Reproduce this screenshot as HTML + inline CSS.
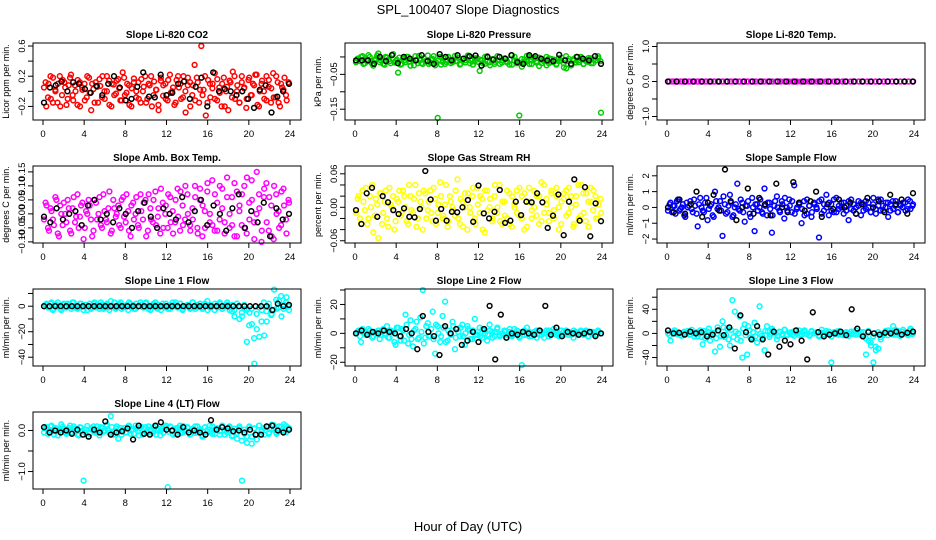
<!DOCTYPE html>
<html><head><meta charset="utf-8"><style>
html,body{margin:0;padding:0;background:#fff}
svg{display:block;font-family:"Liberation Sans",sans-serif}
</style></head><body>
<svg id="chart" width="936" height="540" viewBox="0 0 936 540">
<text x="468" y="14" text-anchor="middle" font-size="13">SPL_100407  Slope Diagnostics</text>
<text x="468" y="531" text-anchor="middle" font-size="13">Hour of Day (UTC)</text>
</svg>
<script>
const hourTicks=[0,4,8,12,16,20,24];
const co2Color=[0.05,-0.2,0.1,-0.1,0.18,0.02,-0.15,0.2,-0.05,0.12,-0.18,0.08,0.22,-0.12,0.0,0.15,-0.2,0.05,0.1,-0.08,0.18,-0.25,0.03,0.12,-0.15,0.07,0.2,-0.1,0.0,0.14,-0.2,0.09,-0.03,0.16,-0.12,0.25,-0.05,0.1,-0.18,0.04,0.17,-0.08,0.12,-0.15,0.0,0.2,-0.1,0.08,-0.2,0.13,0.02,-0.25,0.18,-0.06,0.1,-0.12,0.22,0.0,-0.18,0.15,0.05,-0.1,0.2,-0.28,0.08,0.12,-0.05,0.35,0.18,-0.15,0.6,0.02,-0.32,0.15,-0.08,0.1,0.24,-0.12,0.05,-0.2,0.18,0.0,-0.25,0.12,0.26,-0.1,0.08,-0.15,0.2,0.04,-0.22,0.15,-0.05,0.1,0.22,-0.18,0.0,0.14,-0.1,0.2,0.06,-0.15,0.24,-0.08,0.12,-0.2,0.05,0.18,-0.12,0.1];
const co2Color2=[0.12,-0.08,0.2,-0.15,0.0,0.1,-0.2,0.15,0.05,-0.1,0.18,-0.05,0.08,-0.18,0.12,0.02,-0.12,0.2,-0.02,0.1,-0.15,0.06,0.16,-0.08,0.0,0.2,-0.18,0.1,-0.05,0.14,0.04,-0.12,0.18,-0.02,0.08,-0.2,0.12,0.0,-0.1,0.16,0.06,-0.15,0.1,0.2,-0.05,0.02,-0.18,0.14,0.08,-0.1,0.15,-0.02,0.05,-0.15,0.2,0.1,-0.08,0.0,0.18,-0.2,0.08,-0.12,0.12,0.02,-0.05,0.2,-0.15,0.1,0.04,-0.1,0.16,-0.02,0.1,-0.2,0.06,0.14,-0.08,0.2,0.0,-0.15,0.12,0.05,-0.1,0.18,-0.05,0.08,0.22,-0.2,0.1,0.0,-0.12,0.15,0.04,-0.08,0.2,-0.15,0.1,0.02,-0.05,0.12];
const co2Black=[-0.15,0.05,0.08,0.13,0.0,0.12,0.1,0.03,-0.02,0.07,-0.05,0.1,0.2,0.05,-0.12,-0.1,0.06,0.25,-0.07,-0.08,0.22,-0.05,-0.02,0.1,0.13,-0.1,0.06,0.18,-0.2,0.25,0.0,0.03,0.0,-0.05,0.0,-0.1,-0.22,0.02,0.08,-0.28,-0.07,0.0,0.1];
const presColor=[-0.015,-0.005,0.0,-0.02,-0.01,0.005,-0.015,-0.025,-0.005,0.01,-0.01,-0.02,0.0,-0.008,-0.018,0.008,-0.012,-0.045,-0.022,-0.005,-0.015,0.0,-0.025,-0.01,0.002,-0.018,-0.008,-0.02,-0.012,0.004,-0.016,-0.006,-0.024,-0.175,0.0,-0.014,-0.02,-0.01,-0.008,-0.015,0.003,-0.012,-0.022,-0.006,-0.01,0.0,-0.018,-0.008,-0.013,-0.004,-0.04,-0.01,-0.02,0.002,-0.015,-0.007,-0.02,-0.01,0.0,-0.016,-0.006,-0.012,-0.022,0.005,-0.01,-0.018,-0.168,-0.028,-0.008,-0.014,0.0,-0.02,-0.006,-0.012,-0.002,-0.018,-0.01,-0.024,-0.004,-0.015,-0.008,-0.02,-0.012,-0.002,-0.03,-0.033,-0.006,-0.024,-0.01,0.0,-0.015,-0.005,-0.02,-0.012,-0.003,-0.018,-0.008,-0.01,-0.004,-0.16];
const presColor2=[-0.005,-0.012,0.002,-0.018,-0.008,0.0,-0.02,-0.01,0.004,-0.015,-0.006,-0.022,-0.002,-0.012,0.006,-0.016,-0.008,-0.002,-0.02,-0.01,0.0,-0.014,-0.006,-0.024,-0.01,0.003,-0.018,-0.004,-0.012,-0.02,-0.008,0.002,-0.016,-0.01,-0.022,-0.004,-0.014,0.0,-0.018,-0.008,-0.012,-0.002,-0.02,-0.006,-0.016,0.004,-0.01,-0.022,-0.004,-0.014,-0.008,-0.018,0.0,-0.012,-0.024,-0.006,-0.014,0.002,-0.02,-0.01,-0.004,-0.016,-0.008,-0.022,0.0,-0.012,-0.018,-0.006,-0.014,0.003,-0.02,-0.01,-0.002,-0.016,-0.026,-0.008,-0.012,0.0,-0.018,-0.006,-0.014,-0.022,-0.004,-0.01,-0.018,0.002,-0.012,-0.024,-0.006,-0.016,-0.01,0.0,-0.02,-0.008,-0.014,-0.004,-0.018,-0.01,0.002,-0.012];
const presBlack=[-0.01,-0.01,-0.01,-0.02,0.0,-0.012,0.005,-0.018,0.0,-0.005,-0.01,0.005,-0.012,-0.02,0.008,0.0,-0.01,0.005,-0.005,0.002,0.004,-0.025,0.0,-0.008,0.0,-0.005,0.005,-0.015,-0.02,0.005,0.002,-0.005,-0.01,-0.012,0.006,-0.01,-0.02,0.0,-0.005,-0.01,0.002,-0.02];
const tempColor=[0,0,0,0,0,0,0,0,0,0,0,0,0,0,0,0,0,0,0,0,0,0,0,0,0,0,0,0,0,0,0,0,0,0,0,0,0,0,0,0,0,0,0,0,0,0,0,0,0,0,0,0,0,0,0,0,0,0,0,0];
const tempColor2=[0,0,0,0,0,0,0,0,0,0,0,0,0,0,0,0,0,0,0,0,0,0,0,0,0,0,0,0,0,0,0,0,0,0,0,0,0,0,0,0,0,0,0,0,0,0,0,0,0,0,0,0,0,0,0,0,0,0,0,0];
const tempBlack=[0,0,0,0,0,0,0,0,0,0,0,0,0,0,0,0,0,0,0,0,0,0,0,0,0,0,0,0,0,0];
const ambColor=[-0.02,0.03,-0.06,0.01,-0.04,0.05,-0.08,0.0,0.04,-0.03,0.02,-0.07,0.06,-0.01,-0.05,0.03,-0.09,0.01,0.05,-0.02,-0.06,0.04,0.0,-0.04,0.07,-0.02,0.02,-0.07,0.05,-0.01,0.03,-0.05,0.06,-0.03,0.01,-0.08,0.04,0.0,-0.04,0.07,-0.02,0.05,-0.06,0.02,-0.03,0.08,-0.01,-0.07,0.04,0.0,-0.05,0.06,0.01,-0.03,0.09,-0.06,0.03,-0.02,0.07,-0.04,0.02,0.1,-0.05,0.05,-0.08,0.01,0.08,-0.03,0.12,-0.06,0.04,-0.02,0.09,-0.07,0.06,0.0,-0.04,0.11,-0.08,0.03,0.07,-0.05,0.13,-0.02,0.05,-0.09,0.15,0.02,-0.06,0.09,-0.03,0.06,-0.08,0.1,0.0,-0.05,0.08,0.03,-0.07,0.04];
const ambColor2=[0.04,-0.05,0.02,-0.02,0.06,-0.07,0.03,-0.04,0.0,0.05,-0.06,0.02,-0.03,0.07,-0.01,0.04,-0.05,0.0,0.03,-0.08,0.05,-0.02,0.06,-0.05,0.01,-0.03,0.08,-0.06,0.02,0.0,-0.04,0.05,-0.01,0.07,-0.06,0.03,-0.02,0.06,-0.05,0.01,0.04,-0.08,0.07,-0.02,0.05,-0.04,0.02,0.09,-0.05,0.03,0.07,-0.03,-0.07,0.05,-0.01,0.08,-0.04,0.1,0.0,-0.06,-0.02,0.06,-0.07,0.09,0.03,-0.05,0.11,0.0,-0.04,0.07,-0.06,0.1,0.02,-0.03,0.13,-0.05,0.06,-0.08,0.08,0.01,-0.04,0.1,-0.07,0.04,0.12,-0.03,0.0,0.07,-0.1,0.06,0.11,-0.06,0.03,-0.09,0.07,0.01,-0.04,0.09,-0.02,0.05];
const ambBlack=[-0.01,-0.03,0.02,-0.02,0.0,0.01,-0.04,0.03,0.05,-0.02,0.0,-0.03,0.02,0.0,-0.05,0.01,0.04,-0.01,-0.05,0.02,0.0,-0.02,0.06,-0.03,0.01,0.05,-0.04,0.03,0.0,-0.06,0.02,0.07,-0.05,0.01,-0.03,0.04,-0.08,0.02,-0.02,0.0];
const rhColor=[-0.01,0.02,-0.03,0.01,0.035,-0.02,0.0,-0.045,0.015,-0.055,0.025,-0.01,0.03,-0.035,0.005,0.02,-0.025,0.01,-0.015,0.03,0.0,-0.03,0.02,-0.01,0.04,-0.02,0.01,-0.04,0.025,-0.005,0.03,-0.025,0.015,-0.01,0.045,-0.02,0.005,-0.035,0.02,0.0,-0.015,0.05,-0.03,0.01,0.025,-0.04,0.0,0.02,-0.02,0.035,-0.01,0.015,-0.045,0.03,0.0,-0.025,0.02,-0.01,0.04,-0.03,0.01,-0.02,0.025,-0.035,0.005,0.03,-0.015,0.02,-0.04,0.01,0.035,-0.02,0.0,0.02,-0.03,0.045,-0.01,0.015,-0.025,0.03,-0.005,0.02,-0.04,0.01,0.025,-0.015,0.035,0.0,-0.03,0.02,-0.02,0.04,-0.01,0.025,-0.035,0.01,0.03,-0.02,0.005,-0.01];
const rhColor2=[0.015,-0.02,0.03,-0.005,-0.03,0.02,0.04,-0.015,0.005,0.025,-0.03,0.01,-0.02,0.035,0.0,-0.04,0.015,0.03,-0.01,0.02,-0.025,0.04,-0.005,0.015,-0.035,0.025,0.0,0.03,-0.02,0.01,-0.01,0.035,-0.03,0.005,0.02,-0.015,0.04,-0.025,0.01,-0.005,0.03,-0.02,0.015,-0.035,0.0,0.025,-0.01,0.035,-0.03,0.005,0.02,-0.04,0.03,-0.005,0.015,-0.02,0.04,0.0,-0.025,0.01,-0.015,0.03,-0.03,0.02,0.0,-0.01,0.035,-0.02,0.025,-0.035,0.01,-0.005,0.03,-0.015,0.02,-0.025,0.04,0.005,-0.01,0.025,-0.02,0.035,0.0,-0.03,0.015,0.03,-0.01,0.02,-0.035,0.005,0.04,-0.015,0.025,-0.025,0.01,0.035,-0.005,0.02,-0.02,0.015];
const rhBlack=[-0.005,-0.03,0.025,0.035,-0.017,0.02,0.009,-0.005,-0.012,-0.002,-0.017,-0.018,-0.003,0.065,0.014,-0.024,-0.003,-0.024,-0.008,-0.009,0.0,0.013,-0.026,0.039,-0.011,-0.02,-0.008,0.031,-0.028,-0.024,0.01,-0.014,0.01,0.009,0.025,0.009,-0.037,-0.015,0.023,-0.05,0.01,0.05,-0.024,0.036,-0.052,0.007,-0.025];
const flowColor=[-0.2,0.3,0.1,-0.4,0.5,-0.1,0.2,-0.6,0.0,0.4,-0.3,0.1,-1.2,0.6,-0.2,0.3,-0.8,0.1,-0.5,1.0,-0.1,0.4,-1.8,0.2,-0.3,0.8,-0.6,0.0,1.5,-0.2,0.3,-0.9,0.1,-0.4,0.6,-1.5,0.2,0.0,-0.3,1.2,-0.5,0.3,-1.6,0.1,0.7,-0.2,0.4,-0.7,0.0,0.5,-0.3,1.4,-0.1,0.2,-1.0,0.4,-0.4,0.1,-0.6,0.3,0.0,-1.9,0.5,-0.2,0.8,-0.5,0.2,-0.3,0.6,-0.1,0.3,-0.4,0.1,-0.8,0.5,-0.2,0.0,0.4,-0.5,0.2,-0.1,0.3,-0.3,0.6,-0.4,0.1,0.5,-0.2,0.3,-0.6,0.2,-0.1,0.4,-0.3,0.1,0.3,-0.2,0.5,-0.1,0.2];
const flowColor2=[0.2,-0.3,0.1,0.4,-0.2,0.0,-0.5,0.3,0.1,-0.1,0.5,-0.4,0.2,0.0,-0.3,0.6,-0.1,0.2,-0.6,0.4,0.0,-0.2,0.7,-0.4,0.1,0.3,-0.5,0.2,-0.1,0.5,-0.3,0.1,0.4,-0.6,0.0,0.2,-0.2,0.5,-0.4,0.1,0.3,-0.1,-0.5,0.4,0.0,-0.3,0.2,0.6,-0.2,0.1,0.4,-0.4,0.0,0.3,-0.1,-0.5,0.5,0.1,-0.3,0.2,-0.1,0.4,-0.4,0.2,0.0,0.3,-0.2,0.5,-0.3,0.1,0.0,0.3,-0.2,0.4,-0.1,0.2,-0.4,0.1,0.3,-0.2,0.4,0.0,-0.3,0.2,-0.1,0.5,-0.2,0.1,0.0,0.3,-0.2,0.4,0.1,-0.3,0.2,0.0,0.3,-0.1,0.4,0.1];
const flowBlack=[0.0,-0.3,0.5,-0.4,0.2,1.0,-0.6,0.3,0.8,-0.2,2.4,0.4,-0.8,0.0,1.2,-0.4,0.6,0.2,-0.5,1.5,0.0,-0.3,1.6,0.3,-0.2,0.4,1.0,-0.6,0.2,-0.1,0.5,0.0,0.3,-0.4,0.2,0.6,0.0,0.4,-0.3,0.8,0.2,0.5,-0.4,0.9];
const line1Color=[0,2,-1,3,-2,1,0,-3,2,-1,1,-2,3,0,-1,2,-3,1,0,-2,2,-1,0,3,-2,1,-1,4,0,-2,1,3,-1,0,-3,2,1,-2,0,3,-1,2,0,-3,1,3,-2,0,2,-1,0,-2,3,1,-1,2,-3,0,1,-2,3,0,-1,2,-2,1,4,-1,0,-3,1,2,-2,0,3,-1,1,-3,2,0,-8,-2,-28,-5,-14,-45,-18,-24,-3,-23,-12,-1,-6,13,-2,4,-8,1,7,-3];
const line1Color2=[1,-1,2,-3,0,3,-2,1,-1,2,0,3,-1,-2,2,0,1,-3,2,-1,3,0,-2,1,-1,2,-3,0,3,-1,2,-2,0,1,3,-1,-2,2,0,1,-1,3,-2,0,2,-1,1,-3,0,2,-2,1,0,3,-1,2,-2,0,1,-1,3,-2,1,0,-1,2,-3,1,0,2,-1,3,-2,0,1,-3,-4,-8,2,-10,-5,1,-3,-15,-2,-25,-6,-1,-12,3,-4,2,-7,-3,5,-1,8,-2,3,0];
const line1Black=[0,0,0,0,0,0,0,0,0,0,0,0,0,0,0,0,0,0,0,0,0,0,0,0,0,0,0,0,0,0,0,0,0,0,0,0,0,0,0,0,0,-3,2,0,1];
const line2Color=[0,2,-6,1,-1,3,0,-2,1,2,-1,3,0,-3,2,1,-8,4,-5,2,13,-7,9,-9,3,-4,11,30,-3,7,-2,15,-14,5,-6,12,22,-5,0,8,-11,3,-2,6,-8,5,2,-4,10,-1,4,-3,2,-5,6,1,-2,3,-1,0,2,-3,1,-1,3,0,-2,-22,2,-1,1,-2,0,2,-1,1,-3,0,2,-1,0,1,-2,2,-1,0,1,-1,2,0,-1,1,0,2,-2,1,0,-1,1,0];
const line2Color2=[1,-2,3,0,-1,2,-3,1,0,-4,2,-1,5,-3,1,-6,4,-2,3,-5,6,-1,-4,2,8,-3,1,-7,5,-2,3,-4,6,0,-2,4,-6,2,-1,5,-3,1,4,-2,0,3,-4,2,-1,1,-2,3,0,-1,2,-3,1,4,-2,0,1,-1,3,-2,0,2,-3,1,-1,4,-2,0,1,-3,2,-1,0,2,-2,1,3,-1,0,-2,1,2,-1,0,-3,1,0,2,-1,1,-2,0,1,-1,2,0];
const line2Black=[0,2,-1,1,0,2,1,0,-2,3,0,-11,12,1,-2,-15,5,0,3,-8,-5,1,-6,3,19,-18,13,-3,0,-1,1,0,-1,2,19,-1,4,-2,1,0,-1,0,1,-2,0];
const line3Color=[0,-12,3,0,2,-3,1,-1,4,-2,2,0,-5,5,-18,-8,3,-12,1,-30,10,-22,20,-6,8,-20,55,36,-10,28,-40,15,-35,5,-8,18,-15,45,-4,-28,12,-6,8,0,-10,3,-3,6,-2,1,2,-4,0,5,-2,3,-1,-3,4,0,2,-5,1,-2,4,-1,-48,0,3,-2,1,-3,2,0,-1,3,-2,0,2,-4,-35,-12,-20,-48,-28,-25,-10,-3,2,5,0,12,-2,4,-1,6,2,-3,8,0];
const line3Color2=[-3,2,5,-1,0,-4,3,1,-2,6,-5,2,0,-6,4,-2,8,-3,1,-8,5,-4,10,-2,-10,6,-6,3,0,-12,8,-3,12,-7,2,-5,6,-1,-8,4,3,-2,5,0,-4,2,-1,6,-3,1,-2,4,0,-3,2,5,-1,-4,3,0,1,-3,6,-2,0,3,-5,2,-1,4,-2,1,0,-4,3,-1,5,0,-3,2,-8,4,-15,-5,-22,2,-6,-1,4,-3,2,-2,6,0,-4,3,1,-2,5,-1];
const line3Black=[5,0,1,-2,3,0,2,-5,-2,5,-3,10,-25,30,2,-10,12,-10,-35,3,-22,-12,-18,5,-12,-43,35,2,-5,-2,0,3,-3,40,8,-5,2,0,-2,1,0,3,-2,1,3];
const line4Color=[-0.05,0.08,0.0,0.12,-0.1,0.05,-0.02,0.15,0.03,-0.08,0.06,-0.04,0.1,0.0,-0.12,0.07,-1.22,0.02,-0.15,0.05,0.1,-0.06,0.02,0.08,-0.03,0.12,0.0,0.35,-0.1,0.05,-0.2,0.06,0.0,-0.05,0.1,-0.08,0.03,0.12,-0.02,0.06,-0.1,0.08,-0.05,0.02,-0.06,0.1,0.0,-0.12,0.05,0.08,-1.38,0.1,0.02,-0.08,0.06,0.12,-0.05,0.0,0.08,-0.1,0.04,-0.06,0.1,0.0,-0.15,0.07,-0.03,0.12,-0.08,0.02,0.05,-0.1,0.08,0.0,-0.05,0.1,-0.12,0.04,-0.2,0.06,-1.22,-0.08,-0.3,0.1,-0.15,0.05,-0.22,0.12,0.0,-0.1,0.08,-0.05,0.14,0.02,-0.08,0.1,0.0,0.15,-0.04,0.06];
const line4Color2=[0.05,-0.08,0.1,-0.02,0.06,-0.12,0.02,0.09,-0.05,0.0,0.12,-0.06,0.04,-0.1,0.08,0.0,-0.04,0.11,-0.08,0.03,-0.02,0.1,-0.12,0.05,0.0,0.14,-0.06,0.08,-0.03,0.1,0.02,-0.1,0.06,-0.04,0.12,0.0,-0.08,0.05,-0.12,0.09,0.03,-0.05,0.1,-0.02,0.07,-0.1,0.04,0.0,-0.06,0.12,-0.03,0.08,-0.1,0.05,0.01,-0.07,0.11,-0.02,0.06,-0.09,0.0,0.1,-0.05,0.03,-0.12,0.08,0.02,-0.04,0.1,-0.08,0.05,-0.02,0.12,-0.1,0.0,0.07,-0.14,0.04,-0.06,0.1,-0.25,0.02,-0.15,0.08,-0.32,0.05,-0.1,0.12,-0.03,0.06,0.1,-0.08,0.04,0.13,-0.05,0.0,0.09,-0.03,0.11,0.02];
const line4Black=[0.08,-0.05,0.0,-0.05,0.0,-0.08,0.02,-0.1,-0.15,0.02,-0.05,0.22,-0.1,-0.05,-0.02,0.05,-0.22,0.12,-0.08,-0.1,0.12,0.2,0.02,0.0,-0.1,0.08,-0.05,0.0,-0.05,-0.1,0.25,0.02,0.08,0.05,-0.02,0.0,-0.05,0.02,-0.1,-0.1,0.1,0.12,0.0,-0.05,0.02];

const panels=[
 {name:'co2',title:'Slope Li-820 CO2',yl:'Licor ppm per min.',col:0,row:0,ymin:-0.38,ymax:0.64,ticks:[-0.2,0,0.2,0.4,0.6],labels:['-0.2','','0.2','','0.6'],color:'#ff0000',c:co2Color,c2:co2Color2,k:co2Black},
 {name:'pressure',title:'Slope Li-820 Pressure',yl:'kPa per min.',col:1,row:0,ymin:-0.181,ymax:0.04,ticks:[-0.15,-0.1,-0.05,0],labels:['-0.15','','-0.05',''],color:'#00cc00',c:presColor,c2:presColor2,k:presBlack},
 {name:'temp',title:'Slope Li-820 Temp.',yl:'degrees C per min.',col:2,row:0,ymin:-1.1,ymax:1.1,ticks:[-1,-0.5,0,0.5,1],labels:['-1.0','','0.0','','1.0'],color:'#ff00ff',c:tempColor,c2:tempColor2,k:tempBlack},
 {name:'amb-box-temp',title:'Slope Amb. Box Temp.',yl:'degrees C per min.',col:0,row:1,ymin:-0.104,ymax:0.171,ticks:[-0.1,-0.05,0,0.05,0.1,0.15],labels:['-0.10','-0.05','0.00','0.05','0.10','0.15'],color:'#ff00ff',c:ambColor,c2:ambColor2,k:ambBlack},
 {name:'gas-rh',title:'Slope Gas Stream RH',yl:'percent per min.',col:1,row:1,ymin:-0.064,ymax:0.074,ticks:[-0.06,-0.04,-0.02,0,0.02,0.04,0.06],labels:['-0.06','','','0.00','','','0.06'],color:'#ffff00',c:rhColor,c2:rhColor2,k:rhBlack},
 {name:'sample-flow',title:'Slope Sample Flow',yl:'ml/min per min.',col:2,row:1,ymin:-2.25,ymax:2.62,ticks:[-2,-1,0,1,2],labels:['-2','-1','0','1','2'],color:'#0000ff',c:flowColor,c2:flowColor2,k:flowBlack},
 {name:'line1-flow',title:'Slope Line 1 Flow',yl:'ml/min per min.',col:0,row:2,ymin:-46.9,ymax:13.5,ticks:[-40,-30,-20,-10,0,10],labels:['-40','','-20','','0',''],color:'#00ffff',c:line1Color,c2:line1Color2,k:line1Black},
 {name:'line2-flow',title:'Slope Line 2 Flow',yl:'ml/min per min.',col:1,row:2,ymin:-22.6,ymax:30.7,ticks:[-20,-10,0,10,20,30],labels:['-20','','0','','20',''],color:'#00ffff',c:line2Color,c2:line2Color2,k:line2Black},
 {name:'line3-flow',title:'Slope Line 3 Flow',yl:'ml/min per min.',col:2,row:2,ymin:-54,ymax:73.6,ticks:[-40,-20,0,20,40,60],labels:['-40','','0','','40',''],color:'#00ffff',c:line3Color,c2:line3Color2,k:line3Black},
 {name:'line4-flow',title:'Slope Line 4 (LT) Flow',yl:'ml/min per min.',col:0,row:3,ymin:-1.425,ymax:0.45,ticks:[-1,-0.5,0],labels:['-1.0','','0.0'],color:'#00ffff',c:line4Color,c2:line4Color2,k:line4Black}
];
const NS='http://www.w3.org/2000/svg';
const svg=document.getElementById('chart');
function mk(tag,attrs,parent){const e=document.createElementNS(NS,tag);for(const a in attrs)e.setAttribute(a,attrs[a]);parent.appendChild(e);return e;}
panels.forEach(p=>{
 const L=33+312*p.col, T=43+123*p.row, W=268, H=77;
 const xs=h=>L+10+h*(247/24);
 const ys=v=>T+(p.ymax-v)/(p.ymax-p.ymin)*H;
 const g=mk('g',{},svg);
 
 
 const t=mk('text',{x:L+W/2,y:T-5,'text-anchor':'middle','font-size':'10','font-weight':'bold'},g);
 t.textContent=p.title;
 
 
 const yt=mk('text',{transform:`translate(${L-24},${T+H/2}) rotate(-90)`,'text-anchor':'middle','font-size':'9'},g);
 yt.textContent=p.yl;
 
 
 const pts=mk('g',{fill:'none','stroke-width':'1.5'},g);
 
 
 [[p.c,p.color,0.1,23.8],[p.c2,p.color,0.25,23.6],[p.k,'#000',0.1,23.8]].forEach(([arr,col,h0,span])=>{
  arr.forEach((v,i)=>{
   const h=h0+i*span/(arr.length-1);
   const c=mk('circle',{cx:xs(h).toFixed(1),cy:ys(v).toFixed(1),r:'2.4',stroke:col},pts);
   
   
  });
 });
 const box=mk('rect',{x:L,y:T,width:W,height:H,fill:'none',stroke:'#000','stroke-width':'1'},g);
 
 
 hourTicks.forEach(h=>{
  mk('line',{x1:xs(h),x2:xs(h),y1:T+H,y2:T+H+5,stroke:'#000'},g);
  const lb=mk('text',{x:xs(h),y:T+H+17,'text-anchor':'middle','font-size':'9.5'},g);
  lb.textContent=h;
  
  
 });
 p.ticks.forEach((v,i)=>{
  mk('line',{x1:L-5,x2:L,y1:ys(v),y2:ys(v),stroke:'#000'},g);
  if(p.labels[i]){
   const lb=mk('text',{transform:`translate(${L-8},${ys(v)}) rotate(-90)`,'text-anchor':'middle','font-size':'9.5'},g);
   lb.textContent=p.labels[i].replace('-','\u2212');
   
   
  }
 });
});
</script>
</body></html>
